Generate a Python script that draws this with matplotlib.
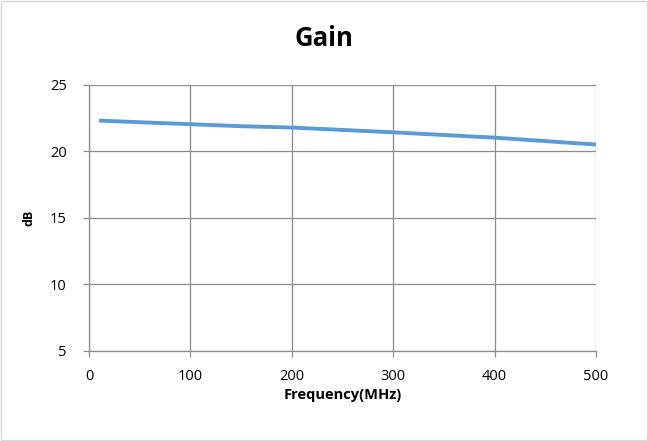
import matplotlib
matplotlib.use("Agg")
from matplotlib import pyplot as plt
from matplotlib.patches import Rectangle

# gain curve
freq = [10, 100, 150, 200, 300, 400, 500]
gain = [22.32, 22.05, 21.9, 21.8, 21.44, 21.04, 20.52]

xticks = [0, 100, 200, 300, 400, 500]
yticks = [5, 10, 15, 20, 25]

plt.rcParams['font.family'] = ['Open Sans', 'DejaVu Sans']

fig = plt.figure(figsize=(6.48, 4.41), dpi=100)
ax = fig.add_axes([0.1373, 0.2041, 0.7825, 0.6032])

ax.plot(freq, gain, color="#5B9BD5", lw=2.8, solid_capstyle="butt")

ax.set_xlim(0, 500)
ax.set_ylim(5, 25)
ax.set_xticks(xticks)
ax.set_yticks(yticks)
ax.grid(True, color="#8C8C8C", lw=0.9)
ax.set_axisbelow(True)
for s in ["top", "right"]:
    ax.spines[s].set_visible(False)
for s in ["left", "bottom"]:
    ax.spines[s].set_color("#8C8C8C")
    ax.spines[s].set_linewidth(0.9)
ax.tick_params(colors="#8C8C8C", labelcolor="#000000", length=4, width=0.9, labelsize=10.5)
ax.tick_params(axis="y", pad=12)
ax.tick_params(axis="x", pad=9)

# title sits centred on the whole chart, not the plot area
fig.text(0.5, 1 - 39 / 441, "Gain", fontsize=18.5, fontweight="bold", ha="center", va="center")
ax.set_xlabel("Frequency(MHz)", fontsize=10.5, fontweight="bold", labelpad=3)
ax.set_ylabel("dB", fontsize=9, fontweight="bold", labelpad=10)

fig.patches.append(Rectangle((0.002, 0.002), 0.996, 0.996, transform=fig.transFigure,
                             fill=False, edgecolor="#D9D9D9", lw=1))

fig.savefig("out.png", dpi=100)
